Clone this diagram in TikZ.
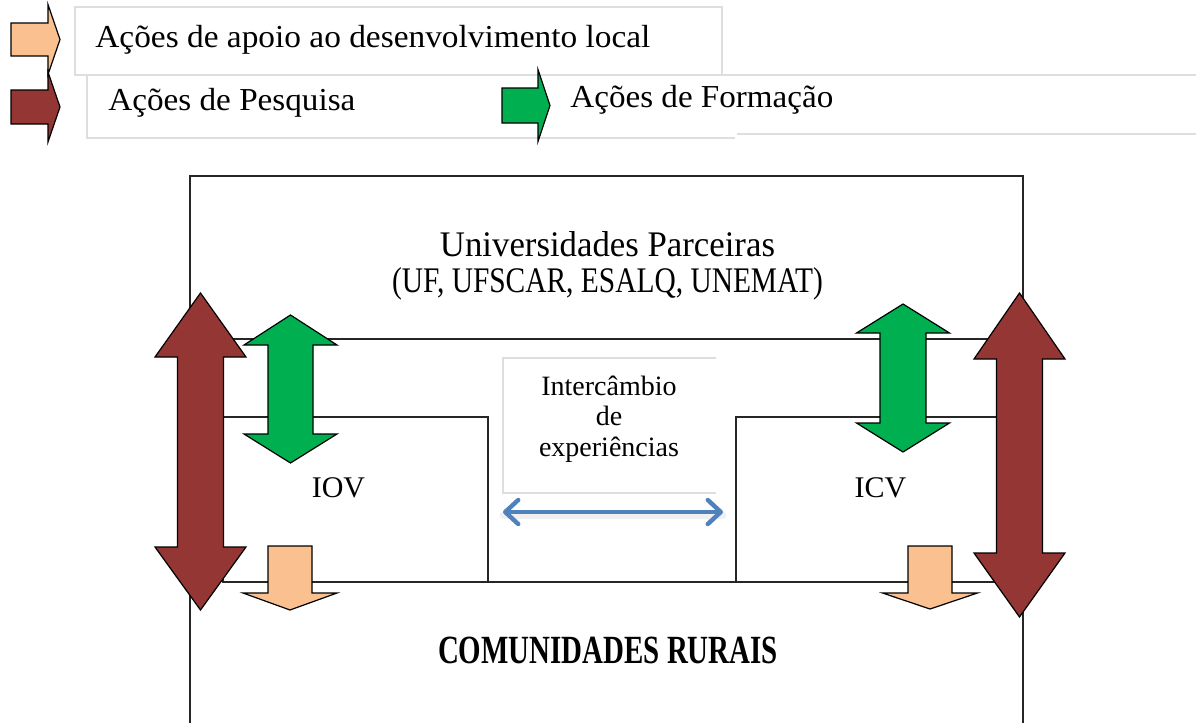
\documentclass[tikz,border=0pt]{standalone}
\usepackage{fontspec}
\setmainfont{Liberation Serif}
\usetikzlibrary{arrows.meta}
\definecolor{lorange}{HTML}{FAC090}
\definecolor{brownr}{HTML}{943634}
\definecolor{greenf}{HTML}{00B050}
\definecolor{blueb}{HTML}{4F81BD}
\definecolor{boxgray}{HTML}{DEDEDE}
% vertical double arrow: fill, cx, toptip, headbase1, headbase2, bottomtip, headhalf, shafthalf
\newcommand{\VDArrow}[8]{%
 \filldraw[fat, fill=#1] (#2,#3) -- (#2+#7,#4) -- (#2+#8,#4) -- (#2+#8,#5) -- (#2+#7,#5) -- (#2,#6) -- (#2-#7,#5) -- (#2-#8,#5) -- (#2-#8,#4) -- (#2-#7,#4) -- cycle;}
% down arrow: fill, cx, top, headbase, tip, headhalf, shafthalf
\newcommand{\DArrow}[7]{%
 \filldraw[fat, fill=#1] (#2-#7,#3) -- (#2+#7,#3) -- (#2+#7,#4) -- (#2+#6,#4) -- (#2,#5) -- (#2-#6,#4) -- (#2-#7,#4) -- cycle;}
% right arrow: fill, x0, headbase x, tip x, cy, shafthalf, headhalf
\newcommand{\RArrow}[7]{%
 \filldraw[fat, fill=#1] (#2,#5-#6) -- (#3,#5-#6) -- (#3,#5-#7) -- (#4,#5) -- (#3,#5+#7) -- (#3,#5+#6) -- (#2,#5+#6) -- cycle;}
\newcommand{\fitw}[2]{\resizebox{#1}{\height}{#2}}
\begin{document}
\begin{tikzpicture}[x=0.5pt,y=-0.5pt,
 frame/.style={draw=black!85, line width=1pt},
 tline/.style={draw=boxgray, line width=0.8pt},
 tbox/.style={draw=boxgray, line width=0.8pt, fill=white},
 fat/.style={draw=black, line width=0.6pt, line join=miter},
 lgd/.style={inner sep=0pt, anchor=base west, font=\fontsize{16}{19}\selectfont},
 ctr/.style={inner sep=0pt, anchor=base},
 dbl/.style={draw=blueb, line width=2.2pt, line cap=round,
   {Straight Barb[round,length=6.5pt,width=12pt]}-{Straight Barb[round,length=6.5pt,width=12pt]}}]
\useasboundingbox (0,0) rectangle (1196,723);
\fill[white] (0,0) rectangle (1196,723);

% legend boxes
\draw[tline] (722,75) -- (1196,75);
\draw[tline] (737,134) -- (1196,134);
\draw[tline] (735,138) -- (87,138) -- (87,75);
\draw[tbox] (75,7) rectangle (722,75);

% legend arrows
\RArrow{lorange}{11}{48}{60}{39.5}{16.5}{35}
\RArrow{brownr}{11}{48}{60}{107}{17}{35}
\RArrow{greenf}{502}{538}{550}{105.5}{17.5}{36}

\node[lgd] (lg1) at (95,47) {\fitw{277.5pt}{Ações de apoio ao desenvolvimento local}};
\node[lgd] (lg2) at (108,110) {\fitw{123.5pt}{Ações de Pesquisa}};
\node[lgd] (lg3) at (570,107) {\fitw{131.5pt}{Ações de Formação}};

% main frame
\draw[frame] (190,723) -- (190,176) -- (1023,176) -- (1023,723);
\draw[frame] (223,582) -- (223,339) -- (997,339) -- (997,582) -- cycle;
\draw[frame] (223,417) -- (488,417) -- (488,582);
\draw[frame] (997,417) -- (736,417) -- (736,582);

% exchange box
\draw[tline] (716,358) -- (503,358) -- (503,493) -- (716,493);
\node[inner sep=0pt, align=center, font=\fontsize{14}{15.2}\selectfont] (inter) at (609,419) {Intercâmbio\\de\\experiências};
\coordinate (exL) at (503,512);
\coordinate (exR) at (723,512);
\draw[draw=black, opacity=0.06, line width=3.5pt, line cap=round] ([yshift=-1.5pt]exL) -- ([yshift=-1.5pt]exR);
\draw[dbl] (exL) -- (exR);

% texts
\node[ctr, font=\fontsize{18}{21}\selectfont] (univ) at (607.5,256) {\fitw{167.5pt}{Universidades Parceiras}};
\node[ctr, font=\fontsize{18}{21}\selectfont] (univ2) at (607.5,292) {\fitw{215.5pt}{(UF, UFSCAR, ESALQ, UNEMAT)}};
\node[ctr, font=\fontsize{15}{18}\selectfont] (iov) at (338.5,497) {IOV};
\node[ctr, font=\fontsize{15}{18}\selectfont] (icv) at (880.5,497) {ICV};
\node[ctr, font=\fontsize{20}{24}\bfseries] (com) at (608,663) {\fitw{170pt}{COMUNIDADES RURAIS}};

% big arrows
\VDArrow{brownr}{200.5}{293}{357}{547}{610}{45.5}{23}
\VDArrow{brownr}{1019.5}{293}{359}{553}{617}{45.5}{23}
\VDArrow{greenf}{290.5}{315}{345}{434}{463}{46.5}{22.5}
\VDArrow{greenf}{903}{304}{333}{423}{452}{46.5}{23}
\DArrow{lorange}{290}{546}{593}{610}{47}{22}
\DArrow{lorange}{930}{546}{593}{609}{47.5}{22}
\end{tikzpicture}
\end{document}
